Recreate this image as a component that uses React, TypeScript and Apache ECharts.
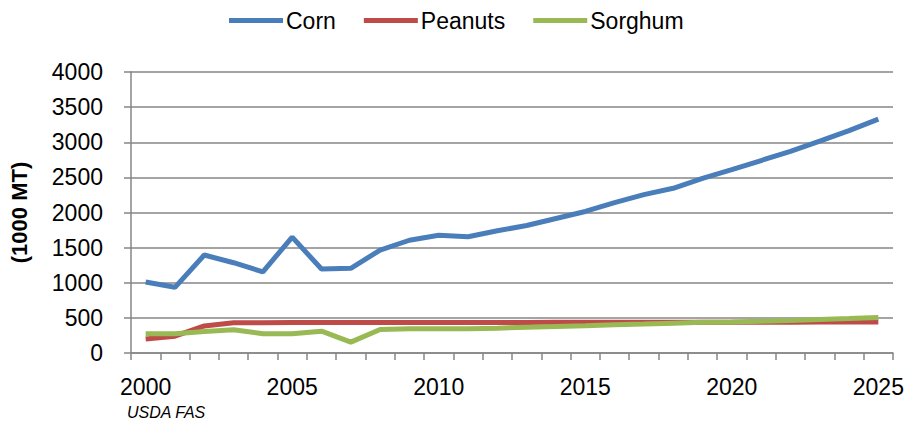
import React, { useEffect, useRef } from "react";
import * as echarts from "echarts";

const years = [
  "2000", "2001", "2002", "2003", "2004", "2005", "2006", "2007", "2008", "2009",
  "2010", "2011", "2012", "2013", "2014", "2015", "2016", "2017", "2018", "2019",
  "2020", "2021", "2022", "2023", "2024", "2025",
];
const corn = [
  1010, 935, 1395, 1285, 1155, 1650, 1195, 1205, 1465, 1605,
  1675, 1655, 1740, 1815, 1915, 2015, 2140, 2255, 2345, 2485,
  2610, 2740, 2870, 3015, 3165, 3330,
];
const peanuts = [
  200, 240, 385, 430, 432, 433, 434, 434, 434, 435,
  435, 435, 435, 435, 436, 436, 437, 437, 438, 438,
  438, 439, 439, 440, 440, 441,
];
const sorghum = [
  275, 275, 307, 330, 275, 275, 311, 155, 335, 344,
  344, 344, 354, 368, 377, 387, 401, 412, 425, 437,
  442, 452, 462, 476, 490, 505,
];
const yTicks = { min: 0, max: 4000, interval: 500 };

const FONT = "Liberation Sans";

export default function App() {
  const ref = useRef<HTMLDivElement>(null);
  useEffect(() => {
    if (!ref.current) return;
    const chart = echarts.init(ref.current, undefined, { renderer: "svg" });
    const lineSeries = (name: string, data: number[], color: string) => ({
      name,
      type: "line",
      data,
      symbol: "none",
      showSymbol: false,
      lineStyle: { color, width: 5 },
      itemStyle: { color },
      z: 3,
    });
    chart.setOption({
      animation: false,
      backgroundColor: "#ffffff",
      textStyle: { fontFamily: FONT },
      legend: {
        top: 4,
        left: 224,
        itemWidth: 54,
        itemHeight: 5,
        itemGap: 28,
        icon: "rect",
        textStyle: { fontFamily: FONT, fontSize: 23, color: "#000", padding: [0, 0, 0, -2] },
        data: ["Corn", "Peanuts", "Sorghum"],
      },
      grid: { left: 123, right: 14, top: 72, bottom: 73, containLabel: false },
      xAxis: {
        type: "category",
        data: years,
        boundaryGap: true,
        axisLine: { show: true, lineStyle: { color: "#868686", width: 1.5 } },
        axisTick: { show: true, interval: 0, length: 7, lineStyle: { color: "#868686", width: 1.5 } },
        axisLabel: { interval: 4, margin: 22, fontFamily: FONT, fontSize: 23, color: "#000" },
        splitLine: { show: false },
      },
      yAxis: {
        type: "value",
        min: yTicks.min,
        max: yTicks.max,
        interval: yTicks.interval,
        name: "(1000 MT)",
        nameLocation: "middle",
        nameRotate: 90,
        nameGap: 101,
        nameTextStyle: { fontFamily: FONT, fontSize: 22, fontWeight: "bold", color: "#000" },
        axisLine: { show: true, lineStyle: { color: "#868686", width: 1.5 } },
        axisTick: { show: true, inside: false, length: 7, lineStyle: { color: "#868686", width: 1.5 } },
        axisLabel: {
          margin: 28,
          fontFamily: FONT,
          fontSize: 23,
          color: "#000",
          formatter: (v: number) => String(v),
        },
        splitLine: { show: true, lineStyle: { color: "#868686", width: 1.5 } },
      },
      graphic: [
        {
          type: "text",
          left: 127,
          top: 404,
          style: {
            text: "USDA FAS",
            fontFamily: FONT,
            fontSize: 16,
            fontStyle: "italic",
            fill: "#000",
          },
        },
      ],
      series: [
        lineSeries("Corn", corn, "#4a7ebb"),
        lineSeries("Peanuts", peanuts, "#be4b48"),
        lineSeries("Sorghum", sorghum, "#98b954"),
      ],
    });
    return () => chart.dispose();
  }, []);
  return (
    <div
      ref={ref}
      style={{ position: "absolute", left: 0, top: 0, width: 907, height: 426 }}
    />
  );
}
